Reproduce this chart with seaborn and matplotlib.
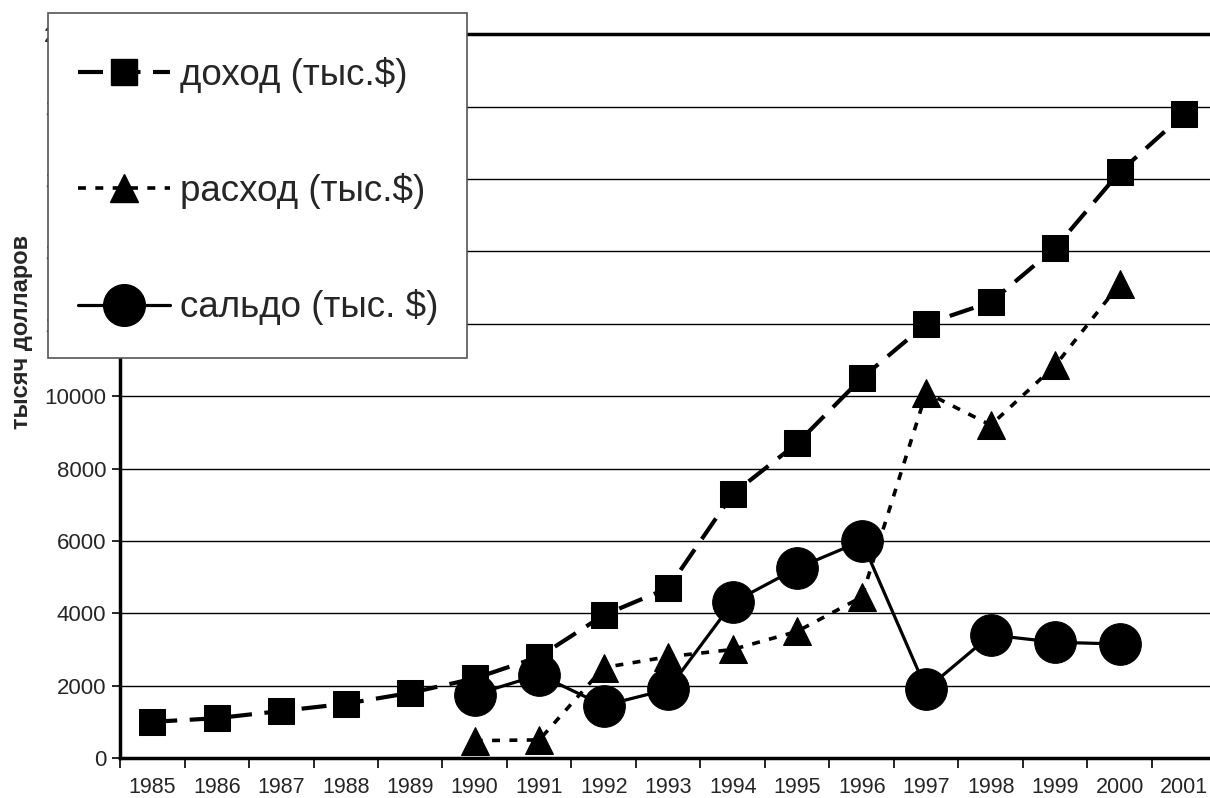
import numpy as np
import pandas as pd
import matplotlib
matplotlib.use("Agg")
import matplotlib.pyplot as plt
import seaborn as sns
from matplotlib.lines import Line2D
from matplotlib.patches import Rectangle
from matplotlib.ticker import FixedLocator

years = [str(y) for y in range(1985, 2002)]
dohod = [1000, 1100, 1300, 1500, 1800, 2200, 2800, 3950, 4700, 7300, 8700,
         10500, 12000, 12600, 14100, 16200, 17800]
rashod = [None, None, None, None, None, 480, 500, 2500, 2800, 3000, 3500,
          4450, 10100, 9200, 10850, 13100, None]
saldo = [None, None, None, None, None, 1750, 2300, 1450, 1900, 4300, 5250,
         6000, 1900, 3400, 3200, 3150, None]
labels = ["доход (тыс.$)", "расход (тыс.$)", "сальдо (тыс. $)"]
ylabel = "тысяч долларов"

sns.set_style("white")
plt.rcParams["font.family"] = ["Liberation Sans", "DejaVu Sans"]

fig = plt.figure(figsize=(12.1, 7.98), dpi=100)
W, H = 1210, 798
ax = fig.add_axes([120 / W, 40 / H, (1216.5 - 120) / W, (758 - 34.4) / H])

x = np.arange(len(years))
df = pd.DataFrame({"x": x, "dohod": dohod, "rashod": rashod, "saldo": saldo})
df = df.astype(float)

styles = [
    dict(col="dohod", marker="s", ms=18.5, dashes=(6, 3), lw=3.0),
    dict(col="rashod", marker="^", ms=20, dashes=(2.2, 2.6), lw=2.6),
    dict(col="saldo", marker="o", ms=30, dashes=None, lw=2.3),
]
handles = []
for st, lab in zip(styles, labels):
    d = df[["x", st["col"]]].dropna()
    sns.lineplot(data=d, x="x", y=st["col"], ax=ax, color="black",
                 marker=st["marker"], markersize=st["ms"], markeredgecolor="black",
                 markerfacecolor="black", linewidth=st["lw"], zorder=3,
                 legend=False)
    line = ax.lines[-1]
    if st["dashes"] is not None:
        line.set_dashes(st["dashes"])
    line.set_clip_on(False)
    h = Line2D([], [], color="black", marker=st["marker"], markersize=st["ms"],
               linewidth=st["lw"])
    if st["dashes"] is not None:
        h.set_dashes(st["dashes"])
    handles.append(h)

ax.set_xlim(-0.5, len(years) - 0.5)
ax.set_ylim(0, 20000)
ax.set_yticks(np.arange(0, 20001, 2000))
ax.set_yticklabels([str(v) for v in range(0, 20001, 2000)])
ax.set_xticks(x)
ax.set_xticklabels(years)
ax.xaxis.set_minor_locator(FixedLocator(np.arange(-0.5, len(years), 1.0)))
ax.tick_params(axis="x", which="major", length=0, labelsize=15.5, pad=14)
ax.tick_params(axis="x", which="minor", length=7, width=1.2, direction="out",
               color="black", bottom=True)
ax.tick_params(axis="y", length=6, width=1.2, direction="out", color="black",
               labelsize=16, pad=4, left=True)
ax.grid(axis="y", color="black", linewidth=1.0)
ax.grid(axis="x", visible=False)
ax.set_axisbelow(True)
for s in ["left", "bottom", "top"]:
    ax.spines[s].set_visible(True)
    ax.spines[s].set_color("black")
    ax.spines[s].set_linewidth(2.5)
ax.spines["right"].set_visible(False)
ax.set_xlabel("")
ax.set_ylabel("")

fig.text(22 / W, 1 - 332 / H, ylabel, rotation=90, fontsize=17,
         fontweight="bold", ha="center", va="center")

# legend box
rect = Rectangle((48 / W, 1 - 358 / H), (467 - 48) / W, (358 - 13) / H,
                 transform=fig.transFigure, facecolor="white", edgecolor="#555555",
                 linewidth=1.2, zorder=4)
fig.add_artist(rect)
leg = fig.legend(handles, labels, loc="upper left",
                 bbox_to_anchor=(78 / W, 1 - 57 / H), frameon=False,
                 fontsize=26.5, labelspacing=2.18, handlelength=2.5,
                 handletextpad=0.27, borderpad=0, borderaxespad=0)
leg.set_zorder(5)

fig.savefig("out.png", dpi=100)
